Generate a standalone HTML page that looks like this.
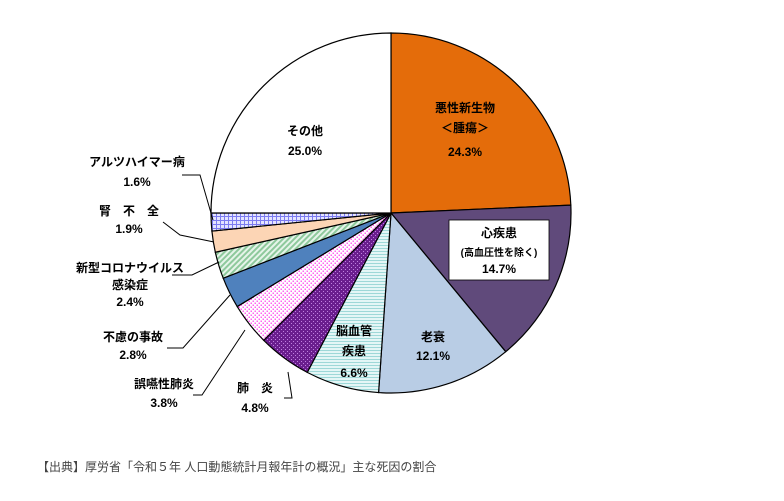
<!DOCTYPE html>
<html><head><meta charset="utf-8"><style>
html,body{margin:0;padding:0;background:#fff;}
svg{display:block;font-family:"Liberation Sans","Noto Sans CJK JP",sans-serif;}
</style></head><body>
<svg width="784" height="501" viewBox="0 0 784 501" xmlns="http://www.w3.org/2000/svg">
<defs>
<pattern id="hl" width="4" height="3" patternUnits="userSpaceOnUse"><rect width="4" height="3" fill="#e4f6f6"/><rect y="2" width="4" height="1" fill="#9ed8d8"/></pattern>
<pattern id="pd" width="4" height="4" patternUnits="userSpaceOnUse"><rect width="4" height="4" fill="#6a1e8e"/><rect x="1" y="1" width="1" height="1" fill="#c080e0"/><rect x="3" y="3" width="1" height="1" fill="#c080e0"/></pattern>
<pattern id="pk" width="4" height="4" patternUnits="userSpaceOnUse"><rect width="4" height="4" fill="#fff"/><rect x="0.5" y="0.5" width="1.5" height="1.5" fill="#ff66f0"/><rect x="2.5" y="2.5" width="1.5" height="1.5" fill="#ff66f0"/></pattern>
<pattern id="gs" width="4" height="4" patternUnits="userSpaceOnUse" patternTransform="rotate(45)"><rect width="4" height="4" fill="#e6f4ea"/><rect width="2" height="4" fill="#8ec99c"/></pattern>
<pattern id="gr" width="4" height="4" patternUnits="userSpaceOnUse"><rect width="4" height="4" fill="#e4e4ff"/><rect width="4" height="1" fill="#7c7cf0"/><rect width="1" height="4" fill="#7c7cf0"/></pattern>
</defs>
<g stroke="#000" stroke-width="1.2">
<path fill="#e46c0a" d="M391,213L391,33A180,180 0 0 1 570.83,205.09Z"/>
<path fill="#604a7b" d="M391,213L570.83,205.09A180,180 0 0 1 505.73,351.69Z"/>
<path fill="#b9cde5" d="M391,213L505.73,351.69A180,180 0 0 1 378.57,392.57Z"/>
<path fill="url(#hl)" d="M391,213L378.57,392.57A180,180 0 0 1 307.28,372.35Z"/>
<path fill="url(#pd)" d="M391,213L307.28,372.35A180,180 0 0 1 263.72,340.28Z"/>
<path fill="url(#pk)" d="M391,213L263.72,340.28A180,180 0 0 1 237.22,306.56Z"/>
<path fill="#4f81bd" d="M391,213L237.22,306.56A180,180 0 0 1 223.22,278.19Z"/>
<path fill="url(#gs)" d="M391,213L223.22,278.19A180,180 0 0 1 215.33,252.27Z"/>
<path fill="#fcd5b5" d="M391,213L215.33,252.27A180,180 0 0 1 211.91,231.06Z"/>
<path fill="url(#gr)" d="M391,213L211.91,231.06A180,180 0 0 1 211,213Z"/>
<path fill="#fff" d="M391,213L211,213A180,180 0 0 1 391,33Z"/>
</g>
<rect x="449" y="220" width="100" height="60" fill="#fff" stroke="#000" stroke-width="0.8"/>
<g font-size="12" font-weight="bold" fill="#000" text-anchor="middle">
<text x="465" y="112">悪性新生物</text>
<text x="465" y="132">＜腫瘍＞</text>
<text x="465" y="156">24.3%</text>
<text x="499" y="237">心疾患</text>
<text x="499" y="256" font-size="10">(高血圧性を除く)</text>
<text x="499" y="273">14.7%</text>
<text x="433" y="341">老衰</text>
<text x="433" y="360">12.1%</text>
<text x="354" y="335">脳血管</text>
<text x="354" y="355">疾患</text>
<text x="354" y="377">6.6%</text>
<text x="305" y="135">その他</text>
<text x="305" y="155">25.0%</text>
<text x="137" y="166">アルツハイマー病</text>
<text x="137" y="186">1.6%</text>
<text x="129" y="215">腎　不　全</text>
<text x="129" y="233">1.9%</text>
<text x="130" y="272">新型コロナウイルス</text>
<text x="130" y="289">感染症</text>
<text x="130" y="306">2.4%</text>
<text x="133" y="341">不慮の事故</text>
<text x="133" y="359">2.8%</text>
<text x="164" y="388">誤嚥性肺炎</text>
<text x="164" y="407">3.8%</text>
<text x="255" y="392">肺　炎</text>
<text x="255" y="412">4.8%</text>
</g>
<g stroke="#000" fill="none" stroke-width="1">
<polyline points="182,175 200,175 213,220"/>
<polyline points="163,222 180,235 214,242"/>
<polyline points="172,275 192,275 219,262"/>
<polyline points="167,348 183,348 230,295"/>
<polyline points="193,395 202,395 245,330"/>
<polyline points="284,398 292,398 288,372"/>
</g>
<text x="37" y="471" font-size="12" fill="#444">【出典】厚労省「令和５年 人口動態統計月報年計の概況」主な死因の割合</text>
</svg>
</body></html>
